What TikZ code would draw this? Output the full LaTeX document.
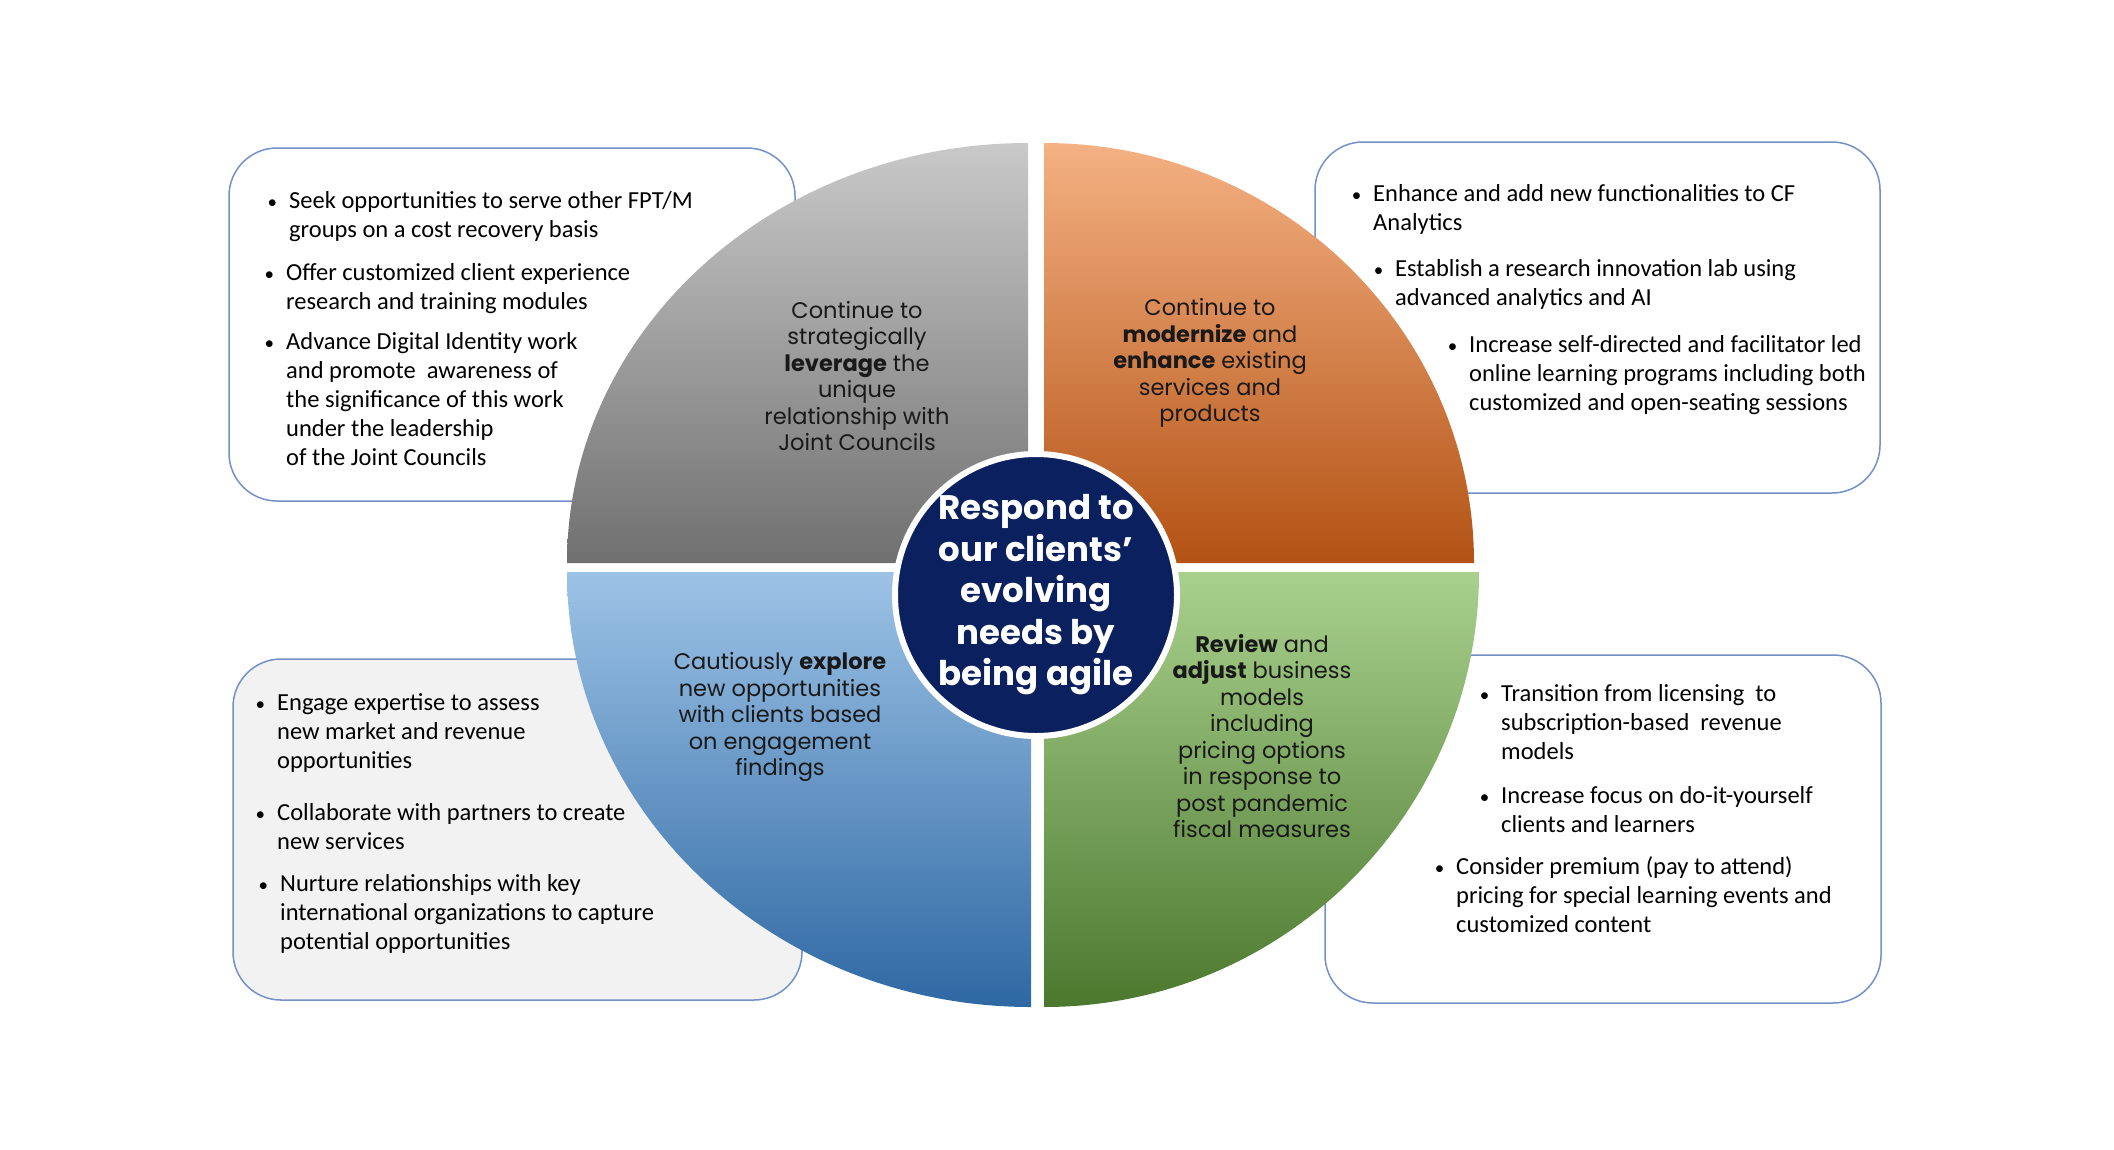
\documentclass[tikz,border=0pt]{standalone}
\usepackage{fontspec}
\setmainfont{Carlito}
\newfontfamily\poppins{Poppins}
\usepackage{tikz}

\definecolor{navy}{HTML}{0B215F}
\definecolor{frame}{HTML}{7391C6}
\definecolor{panelgray}{HTML}{F2F2F2}
\definecolor{graytop}{HTML}{C9C9C9}
\definecolor{graybot}{HTML}{707070}
\definecolor{orangetop}{HTML}{F4B183}
\definecolor{orangebot}{HTML}{B35214}
\definecolor{bluetop}{HTML}{9DC3E6}
\definecolor{bluebot}{HTML}{2E68A3}
\definecolor{greentop}{HTML}{A9D18E}
\definecolor{greenbot}{HTML}{4C782E}

\begin{document}
\begin{tikzpicture}[x=1pt,y=-1pt]
\tikzset{panel/.style = {draw=frame, line width=1.5pt, rounded corners=48pt},
  item/.style = {anchor=north west, align=left, inner sep=0pt, font=\fontsize{24.5}{29}\selectfont},
  quadtext/.style = {align=center, inner sep=0pt, text=black!90, font=\poppins\fontsize{22.5}{26.5}\selectfont},
  hub/.style = {shape=circle, fill=navy, draw=white, line width=6pt, minimum size=282pt, inner sep=0pt,
    align=center, text=white, font=\poppins\bfseries\fontsize{34}{41.5}\selectfont}}
\useasboundingbox (0,0) rectangle (2114,1149);
% panels
\foreach \name/\a/\b/\c/\d/\col in {tl/229/148/795/501/white,tr/1315/142/1880/493/white,
    bl/233/659/802/1000/panelgray,br/1325/655/1881/1003/white} {
    \node[panel, fill=\col, minimum width={(\c-\a)*1pt}, minimum height={(\d-\b)*1pt}]
      (\name) at ({(\a+\c)/2},{(\b+\d)/2}) {};
}
% bullet points
\foreach \x/\y/\txt [count=\i] in {
    289/191/{Seek opportunities to serve other FPT/M\\groups on a cost recovery basis},
    286/263/{Offer customized client experience\\research and training modules},
    286/332/{Advance Digital Identity work\\and promote\ \ awareness of\\the significance of this work\\under the leadership\\of the Joint Councils},
    1373/184/{Enhance and add new functionalities to CF\\Analytics},
    1395/259/{Establish a research innovation lab using\\advanced analytics and AI},
    1469/335/{Increase self-directed and facilitator led\\online learning programs including both\\customized and open-seating sessions},
    277/693/{Engage expertise to assess\\new market and revenue\\opportunities},
    277/803/{Collaborate with partners to create\\new services},
    280/874/{Nurture relationships with key\\international organizations to capture\\potential opportunities},
    1501/684/{Transition from licensing\ \ to\\subscription-based\ \ revenue\\models},
    1501/786/{Increase focus on do-it-yourself\\clients and learners},
    1456/856/{Consider premium (pay to attend)\\pricing for special learning events and\\customized content}} {
    \node[item] (item\i) at (\x,\y) {\llap{{\fontsize{19}{19}\selectfont\textbullet}\hspace{12pt}}\txt};
}
% quadrants
\shade[top color=graytop, bottom color=graybot] (1028,563) -- (567,563)
  arc[start angle=180, end angle=270, x radius=461, y radius=420] -- cycle;
\shade[top color=orangetop, bottom color=orangebot] (1044,563) -- (1044,143)
  arc[start angle=270, end angle=360, x radius=430, y radius=420] -- cycle;
\shade[top color=bluetop, bottom color=bluebot] (1031,572) -- (567,572)
  arc[start angle=180, end angle=90, x radius=464, y radius=435] -- cycle;
\shade[top color=greentop, bottom color=greenbot] (1044,572) -- (1479,572)
  arc[start angle=0, end angle=90, x radius=435, y radius=435] -- cycle;
\node[quadtext] (leverage) at (857,376) {Continue to\\strategically\\\textbf{leverage} the\\unique\\relationship with\\Joint Councils};
\node[quadtext] (modernize) at (1210,363) {Continue to\\\textbf{modernize} and\\\textbf{enhance} existing\\services and\\products};
\node[quadtext] (explore) at (780,717) {Cautiously \textbf{explore}\\new opportunities\\with clients based\\on engagement\\findings};
\node[quadtext] (review) at (1262,736) {\textbf{Review} and\\\textbf{adjust} business\\models\\including\\pricing options\\in response to\\post pandemic\\fiscal measures};
% centre
\node[hub] (goal) at (1036,595) {Respond to\\our clients’\\evolving\\needs by\\being agile};
\end{tikzpicture}
\end{document}
